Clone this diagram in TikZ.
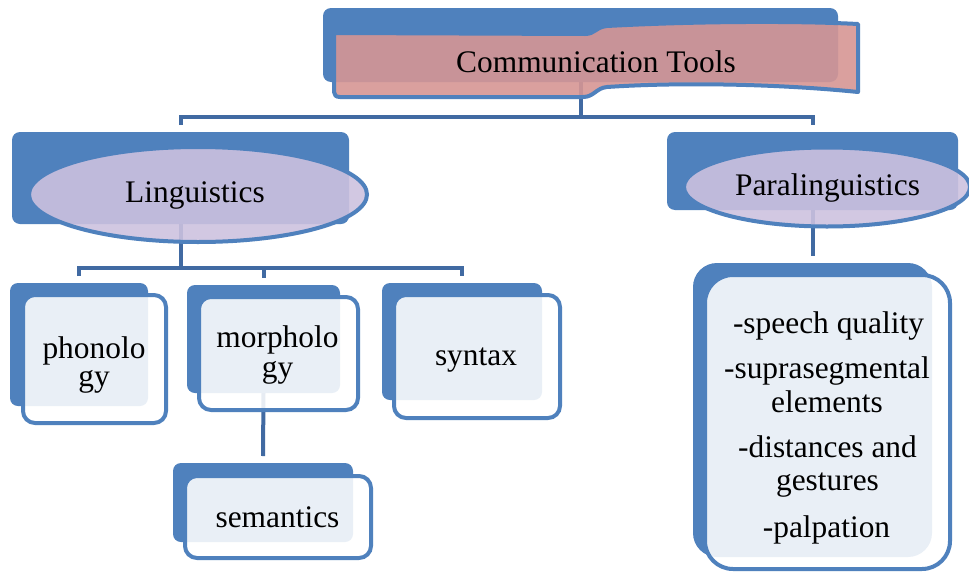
\documentclass[tikz,border=0pt]{standalone}
\usepackage{fontspec}
\setmainfont{Liberation Serif}
\usetikzlibrary{shapes.geometric,calc}
\definecolor{accblue}{RGB}{79,129,189}
\definecolor{connblue}{RGB}{65,106,162}
\definecolor{pinkfill}{RGB}{214,150,148}
\definecolor{lavfill}{RGB}{205,194,223}
\tikzset{
  backbox/.style={draw=none, fill=accblue, rounded corners=8pt, inner sep=0pt, outer sep=0pt},
  frontbox/.style={draw=accblue, line width=4pt, fill=white, fill opacity=0.88, rounded corners=12pt, inner sep=0pt, outer sep=0pt},
  topic/.style={ellipse, draw=accblue, line width=4pt, fill=lavfill, fill opacity=0.89, inner sep=0pt, outer sep=0pt},
  conn/.style={draw=connblue, line width=4pt},
  txt/.style={font=\fontsize{31.4}{28}\selectfont, text=black, anchor=base, inner sep=0pt},
}
\begin{document}
\begin{tikzpicture}[x=1pt, y=-1pt]
\clip (0,0) rectangle (969,573);
\fill[white] (0,0) rectangle (969,573);

% back boxes
\node[backbox, minimum width=515pt, minimum height=74pt] (ctback) at (580.5,45) {};
\node[backbox, minimum width=337pt, minimum height=92pt] (lingback) at (180.5,178) {};
\node[backbox, minimum width=291pt, minimum height=78pt] (paraback) at (812.5,171) {};
\node[backbox, minimum width=138pt, minimum height=123pt] (phback) at (79,344.5) {};
\node[backbox, minimum width=153pt, minimum height=108pt] (moback) at (263.5,339) {};
\node[backbox, minimum width=160pt, minimum height=117pt] (syback) at (462,341.5) {};
\node[backbox, minimum width=180pt, minimum height=79pt] (seback) at (263,502.5) {};
\node[backbox, minimum width=239pt, minimum height=294pt, rounded corners=24pt] (bigback) at (812.5,410) {};

% connectors
\coordinate (hub) at (580.5,117);
\coordinate (lhub) at (180.5,268);
\draw[conn] (ctback.south) -- (hub);
\draw[conn] ([yshift=7pt]lingback.north) |- (hub) -| ([yshift=7pt]paraback.north);
\draw[conn] (lingback.south) -- (lhub);
\draw[conn] ([yshift=7pt]phback.north) |- (lhub) -| ([yshift=7pt]syback.north);
\draw[conn] (lhub -| moback.north) -- ([yshift=7pt]moback.north);
\draw[conn] (moback.south) -- ([yshift=7pt]seback.north);
\draw[conn] (paraback.south) -- ([yshift=7pt]bigback.north);

% top banner
\path[draw=accblue, line width=4pt, fill=pinkfill, fill opacity=0.9, line join=round]
  (334,33) -- (585,34) .. controls (595,34) and (596,27) .. (607,26)
  .. controls (700,21) and (800,21) .. (858,24) -- (858,92)
  .. controls (780,84) and (680,82) .. (607,87)
  .. controls (596,88) and (594,97) .. (583,97) -- (340,97)
  .. controls (336,97) and (334,95) .. (334,92) -- cycle;

% ellipses
\node[topic, minimum width=338pt, minimum height=95pt] (ling) at (198,194.5) {};
\node[topic, minimum width=286pt, minimum height=79pt] (para) at (827,187) {};

% front boxes
\node[frontbox, minimum width=143pt, minimum height=128pt] (phfront) at (94.5,359) {};
\node[frontbox, minimum width=159pt, minimum height=113pt] (mofront) at (278.5,353.5) {};
\node[frontbox, minimum width=166pt, minimum height=123pt] (syfront) at (477,356.5) {};
\node[frontbox, minimum width=186pt, minimum height=82pt] (sefront) at (278,517) {};
\node[frontbox, minimum width=245pt, minimum height=294pt, rounded corners=28pt] (bigfront) at (827.5,422) {};

% texts
\node[txt] (ct) at (596,72) {Communication Tools};
\node[txt] (lingt) at (195,202) {Linguistics};
\node[txt] (parat) at (827.5,195) {Paralinguistics};
\node[txt] (pht1) at (94,358) {phonolo};
\node[txt] (pht2) at (94,386) {gy};
\node[txt] (mot1) at (277.5,347) {morpholo};
\node[txt] (mot2) at (277.5,377) {gy};
\node[txt] (syt) at (476,365) {syntax};
\node[txt] (set) at (277.5,527) {semantics};
\node[txt] (l1) at (828.5,333) {-speech quality};
\node[txt] (l2a) at (827,378) {-suprasegmental};
\node[txt] (l2b) at (827,412) {elements};
\node[txt] (l3a) at (827.5,457) {-distances and};
\node[txt] (l3b) at (827.5,490) {gestures};
\node[txt] (l4) at (826.5,537) {-palpation};
\end{tikzpicture}
\end{document}
